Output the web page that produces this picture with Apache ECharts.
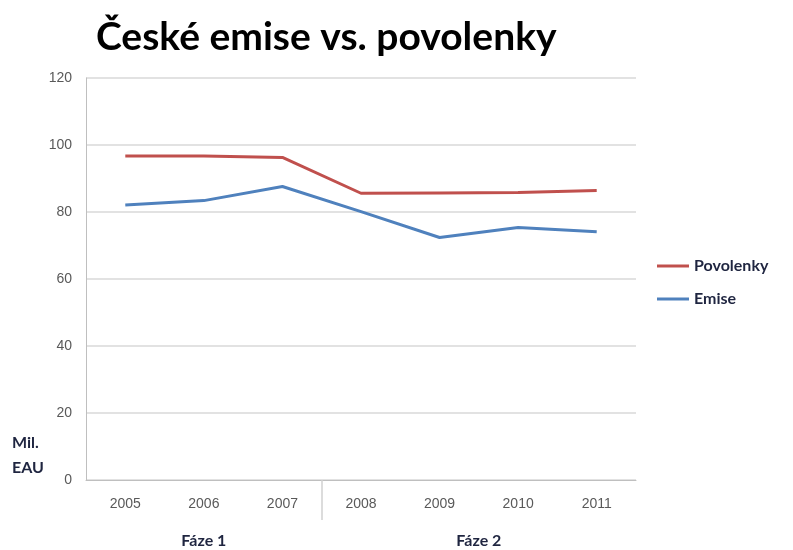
<!DOCTYPE html>
<html>
<head>
<meta charset="utf-8">
<script src="https://cdn.jsdelivr.net/npm/echarts@6/dist/echarts.min.js"></script>
<style>
  html, body { margin: 0; padding: 0; background: #fff; }
  #chart { width: 793px; height: 550px; }
</style>
</head>
<body>
<div id="chart"></div>
<script>
var years = ['2005', '2006', '2007', '2008', '2009', '2010', '2011'];
var povolenky = [96.7, 96.7, 96.3, 85.6, 85.7, 85.8, 86.4];
var emise = [82.1, 83.4, 87.6, 80.1, 72.4, 75.4, 74.1];
var phases = ['Fáze 1', 'Fáze 2'];
// phase label positions (in category units) and the boundary between them
var phaseCenters = [1.5, 5];
var phaseBreak = [3];

var myChart = echarts.init(document.getElementById('chart'));

myChart.setOption({
  backgroundColor: '#fff',
  animation: false,
  title: {
    text: 'České emise vs. povolenky',
    left: 91,
    top: 13,
    textStyle: {
      fontFamily: 'Lato',
      fontWeight: 'bold',
      fontSize: 39,
      color: '#000'
    }
  },
  legend: {
    orient: 'vertical',
    left: 652,
    top: 253,
    itemGap: 17,
    itemWidth: 32,
    itemHeight: 3,
    icon: 'rect',
    data: ['Povolenky', 'Emise'],
    textStyle: {
      fontFamily: 'Lato',
      fontWeight: 'bold',
      fontSize: 16,
      color: '#1f2540'
    }
  },
  grid: { left: 86, right: 157, top: 78, bottom: 70 },
  xAxis: [{
    type: 'category',
    data: years,
    boundaryGap: true,
    axisLine: { lineStyle: { color: '#bfbfbf' } },
    axisTick: { show: false },
    axisLabel: {
      margin: 17,
      fontFamily: 'Liberation Sans',
      fontSize: 14,
      color: '#595959'
    }
  }, {
    // helper axis: phase separator tick and phase labels
    type: 'value',
    position: 'bottom',
    min: 0,
    max: years.length,
    axisLine: { show: false },
    splitLine: { show: false },
    axisTick: {
      show: true,
      customValues: phaseBreak,
      length: 40,
      lineStyle: { color: '#d0d0d0', width: 1.5 }
    },
    axisLabel: {
      customValues: phaseCenters,
      margin: 53,
      formatter: function (v) { return v < phaseBreak[0] ? phases[0] : phases[1]; },
      fontFamily: 'Lato',
      fontWeight: 'bold',
      fontSize: 16,
      color: '#1f2540'
    }
  }],
  yAxis: {
    type: 'value',
    min: 0,
    max: 120,
    interval: 20,
    axisLine: { show: true, lineStyle: { color: '#bfbfbf' } },
    axisTick: { show: false },
    axisLabel: {
      margin: 14,
      fontFamily: 'Liberation Sans',
      fontSize: 14,
      color: '#595959'
    },
    splitLine: { lineStyle: { color: '#d9d9d9', width: 1.5 } }
  },
  graphic: [
    { type: 'text', left: 12, top: 430, style: { text: 'Mil.\nEAU', font: 'bold 16px Lato', fill: '#1f2540', lineHeight: 25 } }
  ],
  series: [{
    name: 'Povolenky',
    type: 'line',
    data: povolenky,
    symbol: 'none',
    color: '#c0504d',
    lineStyle: { width: 3 }
  }, {
    name: 'Emise',
    type: 'line',
    data: emise,
    symbol: 'none',
    color: '#4f81bd',
    lineStyle: { width: 3 }
  }]
});
</script>
</body>
</html>
